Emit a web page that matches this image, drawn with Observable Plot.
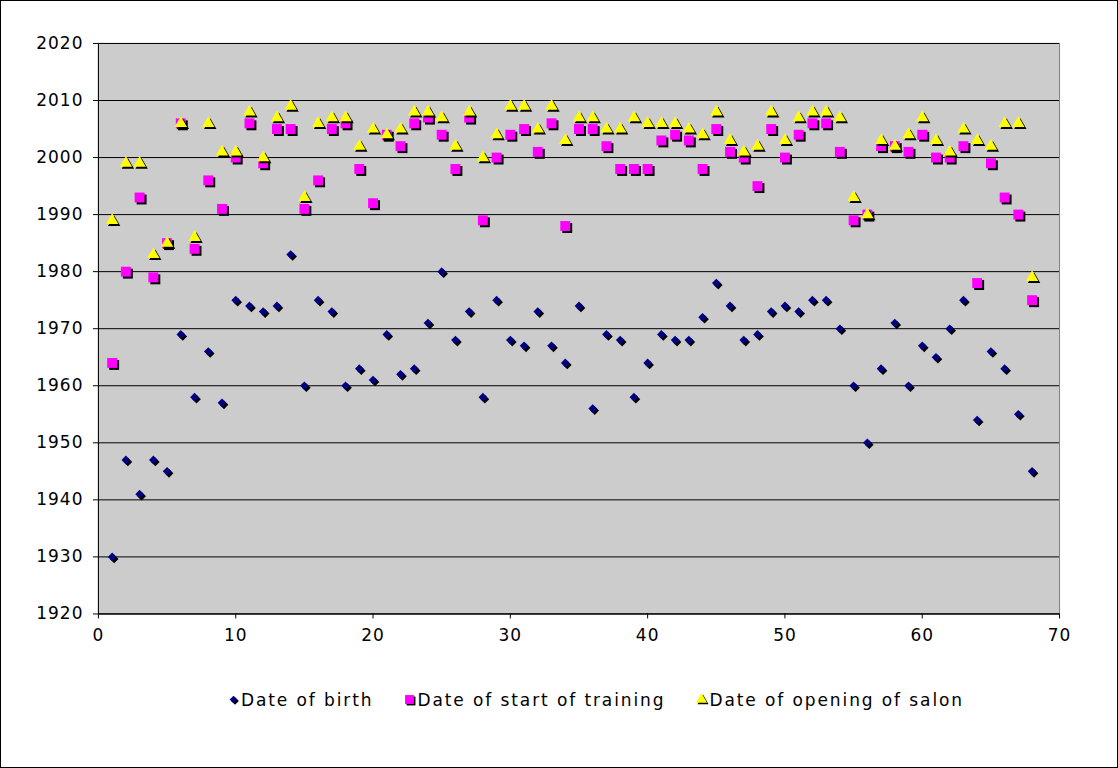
<!DOCTYPE html>
<html>
<head>
<meta charset="utf-8">
<script src="https://cdn.jsdelivr.net/npm/d3@7"></script>
<script src="https://cdn.jsdelivr.net/npm/@observablehq/plot@0.6"></script>
<style>
  body { margin: 0; background: #fff; font-family: "DejaVu Sans", Verdana, sans-serif; }
  #chart { position: relative; width: 1118px; height: 768px; box-sizing: border-box; border: 1px solid #000; background: #fff; }
  #plot { position: absolute; left: -1px; top: -1px; }
  #legend { position: absolute; top: 689px; left: 226px; display: flex; font-size: 17px; letter-spacing: 1.9px; color: #000; white-space: nowrap; }
  .item { display: flex; align-items: center; margin-right: 30px; }
  .item svg { margin-right: -1px; }
</style>
</head>
<body>
<div id="chart">
  <div id="plot"></div>
  <div id="legend"></div>
</div>
<script>
// Series names, colours and marker shapes
const seriesNames = ["Date of birth", "Date of start of training", "Date of opening of salon"];
const seriesColors = ["#000080", "#ff00ff", "#ffff00"];
const seriesSymbols = ["diamond2", "square", "triangle"];
const seriesRadius = [3.9, 5.6, 4.6];

// One value per person (x = 1..68)
const birth = [1930, 1947, 1941, 1947, 1945, 1969, 1958, 1966, 1957, 1975,
  1974, 1973, 1974, 1983, 1960, 1975, 1973, 1960, 1963, 1961,
  1969, 1962, 1963, 1971, 1980, 1968, 1973, 1958, 1975, 1968,
  1967, 1973, 1967, 1964, 1974, 1956, 1969, 1968, 1958, 1964,
  1969, 1968, 1968, 1972, 1978, 1974, 1968, 1969, 1973, 1974,
  1973, 1975, 1975, 1970, 1960, 1950, 1963, 1971, 1960, 1967,
  1965, 1970, 1975, 1954, 1966, 1963, 1955, 1945];

const training = [1964, 1980, 1993, 1979, 1985, 2006, 1984, 1996, 1991, 2000,
  2006, 1999, 2005, 2005, 1991, 1996, 2005, 2006, 1998, 1992,
  2004, 2002, 2006, 2007, 2004, 1998, 2007, 1989, 2000, 2004,
  2005, 2001, 2006, 1988, 2005, 2005, 2002, 1998, 1998, 1998,
  2003, 2004, 2003, 1998, 2005, 2001, 2000, 1995, 2005, 2000,
  2004, 2006, 2006, 2001, 1989, 1990, 2002, 2002, 2001, 2004,
  2000, 2000, 2002, 1978, 1999, 1993, 1990, 1975];

const opening = [1989, 1999, 1999, 1983, 1985, 2006, 1986, 2006, 2001, 2001,
  2008, 2000, 2007, 2009, 1993, 2006, 2007, 2007, 2002, 2005,
  2004, 2005, 2008, 2008, 2007, 2002, 2008, 2000, 2004, 2009,
  2009, 2005, 2009, 2003, 2007, 2007, 2005, 2005, 2007, 2006,
  2006, 2006, 2005, 2004, 2008, 2003, 2001, 2002, 2008, 2003,
  2007, 2008, 2008, 2007, 1993, 1990, 2003, 2002, 2004, 2007,
  2003, 2001, 2005, 2003, 2002, 2006, 2006, 1979];

// Axis ticks
const xTicks = [0, 10, 20, 30, 40, 50, 60, 70];
const yTicks = [1920, 1930, 1940, 1950, 1960, 1970, 1980, 1990, 2000, 2010, 2020];

const allSeries = [birth, training, opening].map((vals, s) =>
  vals.map((v, i) => ({ x: i + 1, y: v, s }))
);

const marks = [
  Plot.frame({ fill: "#cccccc", stroke: "#808080" }),
  Plot.gridY(yTicks, { stroke: "#000", strokeOpacity: 1, strokeWidth: 1 }),
  Plot.ruleX([0], { stroke: "#000" }),
  Plot.ruleY([1920], { stroke: "#000" }),
  Plot.axisY({ ticks: yTicks, tickSize: 5, tickPadding: 10, tickFormat: d => String(d), label: null }),
  Plot.axisX({ ticks: xTicks, tickSize: 5, tickPadding: 10, tickFormat: d => String(d), label: null })
];

// Each series: a black drop shadow, then the coloured marker on top
allSeries.forEach((data, s) => {
  marks.push(Plot.dot(data, { x: "x", y: "y", symbol: () => seriesSymbols[s], r: seriesRadius[s], fill: "#000", dx: 2, dy: 2 }));
  marks.push(Plot.dot(data, { x: "x", y: "y", symbol: () => seriesSymbols[s], r: seriesRadius[s], fill: seriesColors[s] }));
});

const chart = Plot.plot({
  width: 1118,
  height: 670,
  marginLeft: 98,
  marginRight: 58,
  marginTop: 43,
  marginBottom: 56,
  x: { domain: [0, 70], label: null },
  y: { domain: [1920, 2020], label: null },
  symbol: { type: "identity" },
  style: { fontFamily: "\"DejaVu Sans\", Verdana, sans-serif", fontSize: "17px", letterSpacing: "1px", color: "#000", background: "transparent" },
  marks
});
document.getElementById("plot").appendChild(chart);

// Legend: symbol swatches (with the same drop shadow) followed by series names
const symbolTypes = { diamond2: d3.symbolDiamond2, square: d3.symbolSquare, triangle: d3.symbolTriangle };
const legend = d3.select("#legend");
seriesNames.forEach((name, s) => {
  const item = legend.append("div").attr("class", "item");
  const sw = item.append("svg").attr("width", 15).attr("height", 15);
  const path = d3.symbol()
    .type(symbolTypes[seriesSymbols[s]])
    .size(Math.PI * seriesRadius[s] * seriesRadius[s] * 0.8)();
  sw.append("path").attr("d", path).attr("transform", "translate(8,8)").attr("fill", "#000");
  sw.append("path").attr("d", path).attr("transform", "translate(6.5,6.5)").attr("fill", seriesColors[s]);
  item.append("span").text(name);
});
</script>
</body>
</html>
